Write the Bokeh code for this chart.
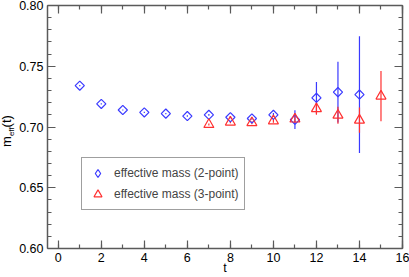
import math
from bokeh.plotting import figure
from bokeh.layouts import row
from bokeh.models import (ColumnDataSource, LinearAxis, FixedTicker, PrintfTickFormatter,
                          Label, Legend, LegendItem, Range1d)
from bokeh.embed import file_html
from bokeh.resources import INLINE

# ---- data ----
t2 = [1, 2, 3, 4, 5, 6, 7, 8, 9, 10, 11, 12, 13, 14]
m2 = [0.734, 0.719, 0.714, 0.712, 0.711, 0.709, 0.710, 0.708, 0.707, 0.710, 0.706, 0.724, 0.7287, 0.7267]
e2 = [0.0005, 0.0005, 0.0005, 0.0005, 0.0005, 0.0006, 0.0007, 0.0008, 0.001, 0.0015, 0.0077, 0.013, 0.025, 0.048]

t3 = [7, 8, 9, 10, 11, 12, 13, 14, 15]
m3 = [0.702, 0.704, 0.7035, 0.705, 0.7065, 0.715, 0.7097, 0.7056, 0.7254]
e3 = [0.0008, 0.001, 0.0012, 0.0015, 0.003, 0.005, 0.007, 0.0104, 0.0206]

x_ticks = [0, 2, 4, 6, 8, 10, 12, 14, 16]
x_minor = list(range(0, 17))
y_ticks = [0.60, 0.65, 0.70, 0.75, 0.80]
y_minor = [round(0.60 + 0.01 * i, 2) for i in range(21)]

label_2pt = "effective mass (2-point)"
label_3pt = "effective mass (3-point)"
x_title = "t"
y_title = ["m", "eff", "(t)"]

FONT = "Liberation Sans"
AX = "#5a5a5a"
BLUE = "#3a3aff"
RED = "#ff3030"

src2 = ColumnDataSource(dict(t=t2, m=m2, lo=[a - b for a, b in zip(m2, e2)], hi=[a + b for a, b in zip(m2, e2)]))
src3 = ColumnDataSource(dict(t=t3, m=m3, lo=[a - b for a, b in zip(m3, e3)], hi=[a + b for a, b in zip(m3, e3)]))

LW = 16  # width of the strip holding the y-axis title
yr = Range1d(0.60, 0.80)

p = figure(width=409 - LW, height=277, output_backend="svg", toolbar_location=None,
           x_range=Range1d(-0.5, 16), y_range=yr,
           min_border_left=47 - LW, min_border_right=7, min_border_top=5, min_border_bottom=28,
           x_axis_location=None, y_axis_location=None)
p.grid.visible = False
p.outline_line_color = None
p.background_fill_color = "white"
p.border_fill_color = "white"

xt = FixedTicker(ticks=x_ticks, minor_ticks=x_minor)
yt = FixedTicker(ticks=y_ticks, minor_ticks=y_minor)

def style(ax, ticks, labels=True):
    ax.axis_line_color = AX
    ax.axis_line_width = 1.5
    ax.major_tick_line_color = AX
    ax.minor_tick_line_color = AX
    ax.major_tick_in = 8
    ax.major_tick_out = 0
    ax.minor_tick_in = 4
    ax.minor_tick_out = 0
    ax.major_tick_line_width = 1.2
    ax.minor_tick_line_width = 1.2
    ax.major_label_text_font = FONT
    if labels:
        ax.major_label_text_font_size = "12.5px"
        ax.major_label_text_color = "black"
        ax.major_label_standoff = 4
    else:
        ax.major_label_overrides = {v: "" for v in ticks}
        ax.major_label_text_font_size = "1px"
        ax.major_label_standoff = 0

bx = LinearAxis(ticker=xt, axis_label=x_title); style(bx, x_ticks)
bx.axis_label_text_font = FONT
bx.axis_label_text_font_size = "12.5px"
bx.axis_label_text_font_style = "normal"
bx.axis_label_text_color = "black"
bx.axis_label_standoff = -4
tx = LinearAxis(ticker=xt); style(tx, x_ticks, False)
ly = LinearAxis(ticker=yt, formatter=PrintfTickFormatter(format="%.2f")); style(ly, y_ticks)
ry = LinearAxis(ticker=yt); style(ry, y_ticks, False)
p.add_layout(bx, "below")
p.add_layout(tx, "above")
p.add_layout(ly, "left")
p.add_layout(ry, "right")

# error bars
p.segment(x0="t", y0="lo", x1="t", y1="hi", source=src2, line_color=BLUE, line_width=1.2)
p.segment(x0="t", y0="lo", x1="t", y1="hi", source=src3, line_color=RED, line_width=1.2)

# markers
p.scatter(x="t", y="m", source=src2, marker="square", angle=math.pi / 4, size=6.5,
          fill_color=None, line_color=BLUE, line_width=1.2)
r3 = p.scatter(x="t", y="m", source=src3, marker="triangle", size=10,
               fill_color=None, line_color=RED, line_width=1.2)

# hidden renderer, used only so the legend shows a diamond
r2leg = p.scatter(x="t", y="m", source=src2, marker="diamond", size=9,
                  fill_color=None, line_color=BLUE, line_width=1.2, visible=False)

legend = Legend(items=[LegendItem(label=label_2pt, renderers=[r2leg]),
                       LegendItem(label=label_3pt, renderers=[r3])],
                location=(34, 38), margin=0, padding=5, spacing=1,
                glyph_width=21, glyph_height=20, label_height=20, label_standoff=6,
                label_text_font=FONT, label_text_font_size="12px",
                border_line_color="#404040", border_line_width=1.2,
                background_fill_alpha=1)
p.add_layout(legend, "center")

# narrow strip on the left that carries the y-axis title (m_eff(t)); shares p's y range
q = figure(width=LW, height=277, output_backend="svg", toolbar_location=None, title=None,
           min_border_left=0, min_border_right=0, min_border_top=5, min_border_bottom=28,
           x_axis_location=None, y_axis_location=None,
           x_range=Range1d(0, 1), y_range=yr)
q.grid.visible = False
q.outline_line_color = None
q.border_fill_color = "white"
q.background_fill_color = "white"
lab_kw = dict(x_units="screen", y_units="data", text_font=FONT, text_color="black",
              angle=math.pi / 2, text_baseline="middle", text_align="center")
q.add_layout(Label(x=5.5, y=0.6880, text=y_title[0], text_font_size="13px", **lab_kw))
q.add_layout(Label(x=11.0, y=0.6961, text=y_title[1], text_font_size="8px", **lab_kw))
q.add_layout(Label(x=5.5, y=0.7047, text=y_title[2], text_font_size="13px", **lab_kw))

layout = row(q, p, spacing=0)
open("out.html", "w").write(file_html(layout, INLINE))
